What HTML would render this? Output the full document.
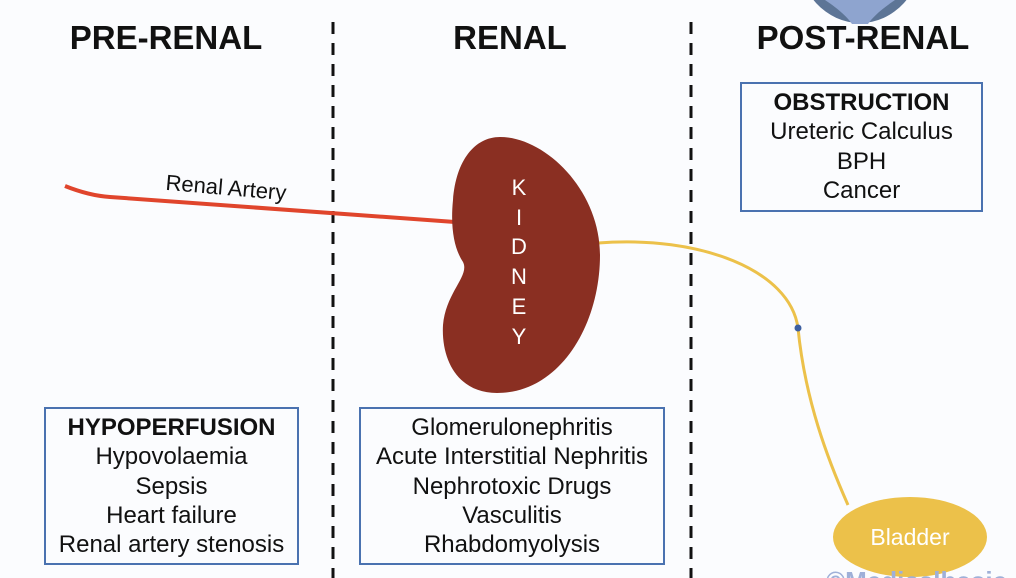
<!DOCTYPE html>
<html><head><style>
body{margin:0;width:1016px;height:578px;overflow:hidden;background:#fbfcfe;font-family:"Liberation Sans",Arial,sans-serif;position:relative}
.h{position:absolute;top:19px;font-weight:bold;font-size:33px;color:#111;transform:translateX(-50%);white-space:nowrap}
.box{position:absolute;border:2px solid #4a72b0;text-align:center;font-size:24px;line-height:29.3px;color:#111;box-sizing:border-box;padding-top:4px;white-space:nowrap}
</style></head><body>
<svg width="1016" height="578" style="position:absolute;left:0;top:0">
<ellipse cx="860" cy="-45" rx="62" ry="68" fill="#5d7596"/>
<path d="M825,0 C840,10 848,18 852,24 L868,24 C872,18 880,10 895,0 Z" fill="#8ea4cf"/>
<line x1="333" y1="22" x2="333" y2="578" stroke="#111" stroke-width="3" stroke-dasharray="12,9"/>
<line x1="691" y1="22" x2="691" y2="578" stroke="#111" stroke-width="3" stroke-dasharray="12,9"/>
<path d="M65,186 C80,192 95,196 110,197 L455,222" fill="none" stroke="#e0452c" stroke-width="4"/>
<path d="M598,243 C700,235 790,270 798,328 C805,400 828,460 848,505" fill="none" stroke="#ecc14a" stroke-width="3"/>
<circle cx="798" cy="328" r="3.5" fill="#3d5fa0"/>
<path d="M500,137 C545,137 600,190 600,255 C600,325 560,393 497,393 C458,393 441,360 443,325 C446,292 470,276 463,262 C455,250 450,230 453,200 C456,160 475,137 500,137 Z" fill="#8a2f22"/>
<g fill="#fff" font-size="22" text-anchor="middle" font-family="Liberation Sans,sans-serif">
<text x="519" y="195">K</text><text x="519" y="225">I</text><text x="519" y="254">D</text><text x="519" y="284">N</text><text x="519" y="314">E</text><text x="519" y="344">Y</text>
</g>
<text x="226" y="195" font-size="22" fill="#111" text-anchor="middle" transform="rotate(5 226 188)">Renal Artery</text>
<ellipse cx="910" cy="537" rx="77" ry="40" fill="#ecc14a"/>
<text x="910" y="545" font-size="23" fill="#fff" text-anchor="middle">Bladder</text>
<text x="826" y="590" font-size="26" font-weight="bold" fill="#9fb0d8">©Medicalbasic.R</text>
</svg>
<div class="h" style="left:166px">PRE-RENAL</div>
<div class="h" style="left:510px">RENAL</div>
<div class="h" style="left:863px">POST-RENAL</div>
<div class="box" style="left:44px;top:407px;width:255px;height:158px"><b>HYPOPERFUSION</b><br>Hypovolaemia<br>Sepsis<br>Heart failure<br>Renal artery stenosis</div>
<div class="box" style="left:359px;top:407px;width:306px;height:158px">Glomerulonephritis<br>Acute Interstitial Nephritis<br>Nephrotoxic Drugs<br>Vasculitis<br>Rhabdomyolysis</div>
<div class="box" style="left:740px;top:82px;width:243px;height:130px"><b>OBSTRUCTION</b><br>Ureteric Calculus<br>BPH<br>Cancer</div>
</body></html>
